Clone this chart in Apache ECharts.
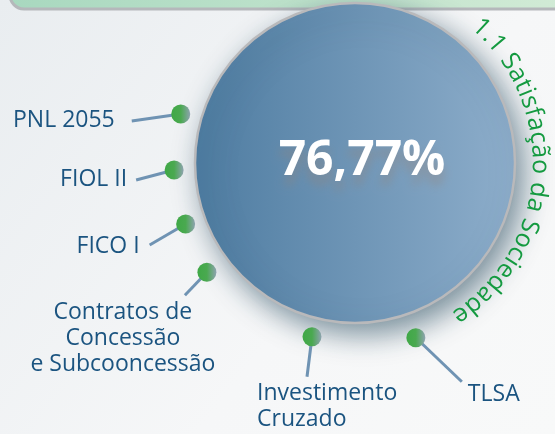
<!DOCTYPE html>
<html>
<head>
<meta charset="utf-8">
<script src="https://cdn.jsdelivr.net/npm/echarts@6/dist/echarts.min.js"></script>
<style>
  html, body { margin: 0; padding: 0; background: #f3f5f7; }
  #chart { width: 555px; height: 434px; }
</style>
</head>
<body>
<div id="chart"></div>
<script>
const categories = ['PNL 2055', 'FIOL II', 'FICO I', 'Contratos de\nConcessão\ne Subcooncessão', 'Investimento\nCruzado', 'TLSA']
const satisfaction = 76.77
const arcTitle = '1.1 Satisfação da Sociedade'

// marker placement around the circle (polar: radius px, angle deg ccw from east)
const dotRadius = [181, 181, 180, 184, 179, 185]
const dotAngle = [164.3, 182.2, 199.8, 216.4, 256.1, 289.2]
// leader line as screen offset from the marker
const leader = [[-49, 7], [-38, 10], [-36, 21], [-22, 23], [-5, 40], [46, 44]]
// label anchor offset from the end of the leader line
const labelPos = [
  { dx: -17, dy: -1, align: 'right', va: 'middle' },
  { dx: -9, dy: 0, align: 'right', va: 'middle' },
  { dx: -10, dy: 1, align: 'right', va: 'middle' },
  { dx: -62, dy: 4, align: 'center', va: 'top' },
  { dx: -50, dy: 4, align: 'left', va: 'top' },
  { dx: 6, dy: 13, align: 'left', va: 'middle' },
]

const center = [355, 163]
const labelFont = '23px "Open Sans"'

// curved title, one glyph per text element
const arcR = 185
const arcFrom = -47
const arcTo = 55
const arcFont = '25px "Open Sans"'
const ctx = document.createElement('canvas').getContext('2d')
ctx.font = arcFont
const chars = Array.from(arcTitle)
let acc = 0
const mids = chars.map((c) => {
  const w = ctx.measureText(c).width
  const m = acc + w / 2
  acc += w
  return m
})
const span = mids[mids.length - 1] - mids[0]
const arcText = chars.map((c, i) => {
  const a = (arcFrom + ((arcTo - arcFrom) * (mids[i] - mids[0])) / span) * Math.PI / 180
  return {
    type: 'text',
    x: center[0] + arcR * Math.cos(a),
    y: center[1] + arcR * Math.sin(a),
    rotation: -(a + Math.PI / 2),
    z: 10,
    style: { text: c, fill: '#149a40', font: arcFont, align: 'center', verticalAlign: 'middle' },
  }
})

const chart = echarts.init(document.getElementById('chart'))

chart.setOption({
  animation: false,
  graphic: [
    {
      type: 'rect',
      z: -10,
      shape: { x: 0, y: 0, width: 555, height: 434 },
      style: {
        fill: {
          type: 'linear', x: 0, y: 0, x2: 1, y2: 1,
          colorStops: [{ offset: 0, color: '#e9edf0' }, { offset: 0.6, color: '#f6f7f8' }, { offset: 1, color: '#f8f9f9' }],
        },
      },
    },
    {
      type: 'rect',
      z: -5,
      shape: { x: 10, y: -30, width: 560, height: 39, r: 14 },
      style: {
        fill: {
          type: 'linear', x: 0, y: 0, x2: 1, y2: 0,
          colorStops: [{ offset: 0, color: '#a8d8bf' }, { offset: 1, color: '#d2ebd6' }],
        },
        stroke: '#b5b8bb',
        lineWidth: 3,
      },
    },
    ...arcText,
  ],
  polar: { center, radius: 200 },
  angleAxis: { type: 'value', min: 0, max: 360, startAngle: 0, clockwise: false, show: false },
  radiusAxis: { type: 'value', min: 0, max: 200, show: false },
  series: [
    {
      type: 'pie',
      center,
      radius: [0, 160],
      silent: true,
      data: [{ value: satisfaction, name: 'Satisfação' }],
      itemStyle: {
        color: {
          type: 'linear', x: 0, y: 0, x2: 1, y2: 0,
          colorStops: [{ offset: 0, color: '#4e7ca1' }, { offset: 1, color: '#8eaecb' }],
        },
        borderColor: '#b9b9bb',
        borderWidth: 2.5,
        shadowBlur: 28,
        shadowOffsetX: 8,
        shadowOffsetY: 10,
        shadowColor: 'rgba(40,75,95,0.6)',
      },
      label: {
        show: true,
        position: 'center',
        offset: [7, -2],
        formatter: () => satisfaction.toFixed(2).replace('.', ',') + '%',
        color: '#ffffff',
        fontFamily: 'Open Sans',
        fontWeight: 'bold',
        fontSize: 48,
        textShadowColor: 'rgba(150,130,120,0.45)',
        textShadowBlur: 10,
        textShadowOffsetY: 10,
      },
      labelLine: { show: false },
      emphasis: { disabled: true },
    },
    {
      type: 'custom',
      coordinateSystem: 'polar',
      silent: true,
      z: 5,
      data: categories.map((name, i) => ({ name, value: [dotRadius[i], dotAngle[i], i] })),
      renderItem(params, api) {
        const i = api.value(2)
        const p = api.coord([api.value(0), api.value(1)])
        const end = [p[0] + leader[i][0], p[1] + leader[i][1]]
        const lp = labelPos[i]
        return {
          type: 'group',
          children: [
            {
              type: 'line',
              shape: { x1: p[0], y1: p[1], x2: end[0], y2: end[1] },
              style: { stroke: '#6f93b3', lineWidth: 3 },
            },
            {
              type: 'circle',
              shape: { cx: p[0], cy: p[1], r: 9.5 },
              style: {
                fill: {
                  type: 'linear', x: 0, y: 0, x2: 1, y2: 0,
                  colorStops: [
                    { offset: 0, color: '#3fa846' },
                    { offset: 0.5, color: '#4aa950' },
                    { offset: 1, color: '#8ea3b0' },
                  ],
                },
              },
            },
            {
              type: 'text',
              x: end[0] + lp.dx,
              y: end[1] + lp.dy,
              style: {
                text: categories[i],
                fill: '#1b5480',
                font: labelFont,
                align: lp.align,
                verticalAlign: lp.va,
                lineHeight: 26,
              },
            },
          ],
        }
      },
    },
  ],
})
</script>
</body>
</html>
